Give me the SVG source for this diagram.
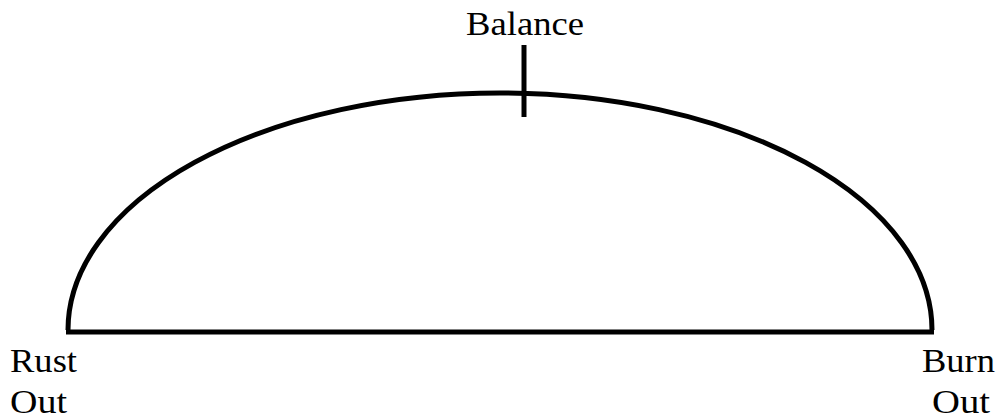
<svg xmlns="http://www.w3.org/2000/svg" width="1001" height="419" viewBox="0 0 1001 419">
<style>
.ln{fill:none;stroke:#000;stroke-width:5}
.t{font-family:'Liberation Serif',serif;font-size:34px;fill:#000}
</style>
<rect width="1001" height="419" fill="#fff"/>
<g id="connectors">
<path class="ln" d="M68,330 A432,237 0 0 1 932,330"/>
<line class="ln" x1="66" y1="332" x2="934" y2="332"/>
<line class="ln" x1="524" y1="45" x2="524" y2="117"/>
</g>
<g id="balance"><text class="t" x="466" y="35" textLength="118" lengthAdjust="spacingAndGlyphs">Balance</text></g>
<g id="rust-out"><text class="t" x="10" y="372" textLength="67" lengthAdjust="spacingAndGlyphs">Rust</text><text class="t" x="10" y="413" textLength="57" lengthAdjust="spacingAndGlyphs">Out</text></g>
<g id="burn-out"><text class="t" x="922" y="372" textLength="73" lengthAdjust="spacingAndGlyphs">Burn</text><text class="t" x="932" y="413" textLength="58" lengthAdjust="spacingAndGlyphs">Out</text></g>
</svg>
